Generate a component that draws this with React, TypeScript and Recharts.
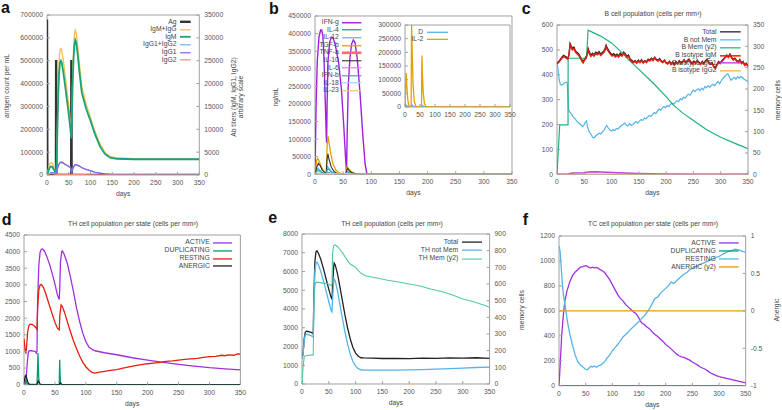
import React from 'react';
import { LineChart, Line, XAxis, YAxis, ReferenceArea } from 'recharts';

type Pt = [number, number];

const DAY_TICKS = [0, 50, 100, 150, 200, 250, 300, 350];

// ---------- panel a ----------
const agCount: Pt[] = [[0, 680000], [0.8, 0], [20.6, 0], [21, 503000], [21.6, 0], [55.6, 0], [56, 503000], [56.6, 0], [350, 0]];
const igmIgg: Pt[] = [[0, 0], [3, 1300], [6, 2400], [9, 2700], [12, 2600], [15, 1900], [18, 1100], [20, 700], [21, 400], [22, 2600], [24, 11500], [26, 20000], [28, 25000], [30, 27500], [32, 27700], [34, 27200], [37, 25400], [41, 22400], [45, 19200], [49, 16000], [52, 13300], [55, 10300], [56, 9800], [57, 13000], [59, 21500], [61, 27500], [63, 30800], [65, 31700], [67, 31200], [70, 28800], [74, 24800], [80, 19300], [90, 15500], [100, 12600], [110, 9600], [122, 6800], [133, 5000], [145, 4100], [160, 3750], [200, 3600], [260, 3550], [350, 3550]];
const igm: Pt[] = [[0, 0], [3, 800], [6, 1600], [9, 1850], [12, 1800], [15, 1300], [18, 800], [20, 500], [21, 300], [22, 2000], [24, 10000], [26, 18000], [28, 22500], [30, 24700], [32, 25000], [34, 24500], [37, 22800], [41, 20000], [45, 17000], [49, 14000], [52, 11500], [55, 8800], [56, 8000], [57, 12000], [59, 20000], [61, 25500], [63, 28500], [65, 29500], [67, 29000], [70, 26800], [74, 23000], [80, 18000], [90, 14500], [100, 11800], [110, 9000], [122, 6200], [133, 4600], [145, 3800], [160, 3550], [200, 3450], [260, 3450], [350, 3450]];
const igg1igg2: Pt[] = [[0, 0], [5, 250], [10, 550], [15, 450], [20, 250], [22, 700], [26, 2100], [30, 2800], [34, 2850], [40, 2500], [47, 2100], [54, 1700], [56, 700], [60, 1600], [64, 2250], [68, 2250], [75, 1950], [80, 1650], [90, 1250], [100, 950], [110, 650], [122, 420], [133, 270], [145, 160], [160, 90], [200, 20], [250, 0], [350, 0]];
const igg1: Pt[] = [[0, 0], [5, 200], [10, 500], [15, 400], [20, 200], [22, 600], [26, 2000], [30, 2700], [34, 2750], [40, 2400], [47, 2000], [54, 1600], [56, 600], [60, 1500], [64, 2200], [68, 2200], [75, 1900], [80, 1600], [90, 1200], [100, 900], [110, 600], [122, 400], [133, 250], [145, 150], [160, 80], [200, 20], [250, 0], [350, 0]];
const igg2: Pt[] = [[0, 0], [5, 250], [10, 350], [18, 200], [22, 150], [30, 200], [55, 150], [65, 120], [100, 50], [150, 0], [350, 0]];

// ---------- panel b ----------
const ifng: Pt[] = [[0, 0], [2, 200000], [4, 320000], [7, 390000], [10, 410000], [12, 410000], [14, 392000], [16, 330000], [18, 220000], [20, 110000], [20.6, 90000], [21.5, 200000], [23, 320000], [26, 375000], [29, 390000], [32, 388000], [36, 368000], [42, 318000], [47, 240000], [51, 140000], [54, 55000], [56, 5000], [57, 100000], [59, 250000], [62, 330000], [65, 370000], [68, 382000], [71, 375000], [75, 330000], [80, 230000], [85, 110000], [89, 30000], [92, 3000], [95, 0], [350, 0]];
const il4: Pt[] = [[0, 0], [4, 3000], [8, 2500], [15, 800], [21, 500], [23, 5000], [28, 3000], [35, 1000], [50, 200], [57, 2500], [62, 1200], [75, 0], [350, 0]];
const il12: Pt[] = [[0, 0], [3, 12000], [5, 17000], [8, 13000], [12, 6000], [16, 2500], [20, 1000], [21, 15000], [22, 22000], [25, 16000], [29, 8000], [34, 3000], [40, 1000], [55, 200], [56, 6000], [58, 8000], [62, 4000], [68, 1000], [80, 0], [350, 0]];
const tgfb: Pt[] = [[0, 0], [3, 40000], [5, 45500], [8, 35000], [12, 18000], [16, 8000], [20, 3000], [21.5, 80000], [23, 109000], [25, 90000], [28, 58000], [32, 29000], [37, 12000], [43, 4000], [50, 1000], [55, 500], [56, 15000], [57, 21600], [60, 15000], [64, 8000], [70, 2500], [80, 500], [90, 0], [350, 0]];
const tnfa: Pt[] = [[0, 0], [5, 1500], [20, 500], [22, 2500], [35, 500], [57, 1000], [70, 0], [350, 0]];
const il10: Pt[] = [[0, 0], [3, 20000], [6, 31000], [9, 25000], [13, 12000], [17, 5000], [20, 2000], [21.5, 45000], [23, 58000], [25, 42000], [29, 20000], [34, 8000], [40, 2000], [50, 500], [55, 200], [56, 10000], [58, 17000], [61, 10000], [66, 4000], [75, 500], [85, 0], [350, 0]];
const il6: Pt[] = [[0, 0], [5, 1000], [20, 300], [23, 1500], [40, 200], [57, 600], [70, 0], [350, 0]];
const ifnb: Pt[] = [[0, 0], [3, 9000], [6, 11000], [9, 8000], [13, 4000], [18, 1500], [20, 800], [21.5, 12000], [23, 16000], [26, 11000], [30, 5000], [36, 1500], [45, 300], [55, 100], [56, 5000], [58, 7000], [62, 3500], [68, 800], [80, 0], [350, 0]];
const il18: Pt[] = [[0, 0], [5, 2000], [15, 500], [23, 3000], [35, 600], [57, 1200], [70, 0], [350, 0]];
const il23: Pt[] = [[0, 0], [5, 1200], [15, 300], [23, 1800], [35, 400], [57, 800], [70, 0], [350, 0]];
const dCyt: Pt[] = [[0, 0], [2, 8000], [5, 6000], [10, 2000], [20, 500], [22, 9000], [26, 4000], [32, 1000], [55, 500], [57, 7000], [62, 2000], [70, 0], [350, 0]];
const il2: Pt[] = [[0, 0], [3, 100000], [4, 124000], [6, 80000], [9, 30000], [12, 8000], [16, 1000], [20.5, 0], [21.5, 250000], [22, 300000], [24, 200000], [27, 80000], [31, 20000], [36, 3000], [42, 0], [55, 0], [56, 150000], [56.5, 188000], [58, 120000], [61, 50000], [65, 12000], [70, 2000], [78, 0], [350, 0]];

// ---------- panel c ----------
const bTotal: Pt[] = [[0, 446], [3, 452], [6, 462], [9, 471], [12, 478], [15, 474], [18, 470], [20, 467], [22, 482], [24, 526], [26, 516], [28, 506], [31, 511], [34, 495], [37, 490], [40, 483], [43, 471], [46, 459], [48, 452], [50, 462], [53, 471], [55, 483], [57, 506], [59, 493], [62, 479], [65, 487], [68, 481], [71, 491], [74, 486], [77, 493], [80, 484], [83, 490], [86, 496], [88, 506], [90, 519], [92, 508], [95, 497], [98, 488], [101, 480], [104, 485], [107, 478], [110, 483], [113, 476], [116, 487], [119, 480], [122, 491], [125, 485], [128, 474], [131, 479], [134, 463], [137, 458], [140, 452], [143, 457], [146, 450], [149, 459], [152, 452], [155, 461], [158, 450], [161, 457], [164, 452], [167, 463], [170, 458], [173, 467], [176, 460], [179, 471], [182, 462], [185, 458], [188, 465], [191, 456], [194, 452], [197, 459], [200, 450], [203, 446], [206, 455], [209, 444], [212, 451], [215, 442], [218, 453], [221, 446], [224, 457], [227, 448], [230, 453], [233, 461], [236, 450], [239, 457], [242, 463], [245, 452], [248, 446], [251, 455], [254, 448], [257, 459], [260, 450], [263, 444], [266, 453], [269, 446], [272, 457], [275, 463], [278, 452], [281, 444], [284, 449], [287, 436], [290, 428], [293, 441], [296, 453], [299, 448], [302, 457], [305, 463], [308, 471], [311, 479], [314, 472], [317, 483], [320, 470], [323, 462], [326, 467], [329, 458], [332, 452], [335, 461], [338, 448], [341, 453], [344, 440], [347, 446], [350, 436]];
const bNotMem: Pt[] = [[0, 446], [2, 420], [4, 380], [6, 362], [8, 358], [11, 362], [14, 368], [17, 370], [19, 366], [20, 320], [21, 262], [23, 252], [26, 244], [29, 232], [32, 226], [35, 218], [38, 210], [41, 204], [44, 198], [47, 192], [50, 200], [52, 210], [54, 215], [56, 190], [59, 170], [62, 162], [65, 150], [68, 146], [71, 155], [74, 160], [77, 165], [80, 162], [83, 170], [86, 176], [89, 190], [91, 196], [94, 186], [97, 178], [100, 174], [103, 180], [106, 176], [109, 184], [112, 182], [115, 190], [118, 196], [121, 200], [124, 206], [127, 198], [130, 194], [133, 204], [136, 196], [139, 200], [142, 206], [145, 212], [148, 206], [151, 214], [154, 220], [157, 216], [160, 226], [163, 222], [166, 230], [169, 236], [172, 232], [175, 240], [178, 248], [181, 244], [184, 254], [187, 262], [190, 258], [193, 266], [196, 272], [199, 268], [202, 276], [205, 272], [208, 282], [211, 286], [214, 282], [217, 290], [220, 296], [223, 292], [226, 304], [229, 300], [232, 310], [235, 306], [238, 316], [241, 322], [244, 318], [247, 330], [250, 338], [253, 332], [256, 340], [259, 344], [262, 336], [265, 346], [268, 340], [271, 352], [274, 348], [277, 356], [280, 350], [283, 358], [286, 362], [289, 356], [292, 366], [295, 372], [298, 364], [301, 376], [304, 384], [307, 392], [310, 400], [313, 404], [316, 390], [319, 378], [322, 384], [325, 390], [328, 382], [331, 392], [334, 386], [337, 394], [340, 388], [343, 382], [346, 378], [350, 372]];
const bMem: Pt[] = [[0, 0], [5, 116], [20.2, 116], [20.4, 272], [54, 272], [57, 338], [80, 324], [100, 308], [115, 290], [130, 270], [150, 246], [176, 214], [200, 182], [212, 164], [230, 144], [250, 126], [275, 104], [300, 87], [325, 73], [350, 60]];
const bIgm: Pt[] = [[0, 444], [3, 449], [6, 458], [9, 467], [12, 473], [15, 470], [18, 465], [20, 463], [22, 478], [24, 520], [26, 511], [28, 500], [31, 505], [34, 490], [37, 484], [40, 478], [43, 466], [46, 453], [48, 448], [50, 457], [53, 466], [55, 477], [57, 499], [59, 487], [62, 474], [65, 481], [68, 475], [71, 485], [74, 480], [77, 487], [80, 478], [83, 484], [86, 490], [88, 499], [90, 512], [92, 502], [95, 491], [98, 482], [101, 475], [104, 479], [107, 472], [110, 478], [113, 471], [116, 481], [119, 475], [122, 485], [125, 480], [128, 470], [131, 474], [134, 459], [137, 454], [140, 448], [143, 454], [146, 446], [149, 455], [152, 449], [155, 457], [158, 447], [161, 454], [164, 449], [167, 459], [170, 455], [173, 463], [176, 457], [179, 467], [182, 459], [185, 455], [188, 461], [191, 453], [194, 449], [197, 456], [200, 447], [203, 443], [206, 452], [209, 441], [212, 448], [215, 439], [218, 450], [221, 443], [224, 454], [227, 445], [230, 450], [233, 458], [236, 447], [239, 454], [242, 460], [245, 449], [248, 443], [251, 452], [254, 445], [257, 456], [260, 447], [263, 441], [266, 450], [269, 443], [272, 454], [275, 460], [278, 449], [281, 441], [284, 446], [287, 433], [290, 425], [293, 438], [296, 450], [299, 445], [302, 454], [305, 460], [308, 468], [311, 476], [314, 469], [317, 480], [320, 467], [323, 459], [326, 464], [329, 455], [332, 449], [335, 458], [338, 445], [341, 450], [344, 437], [347, 443], [350, 433]];
const bIgg1: Pt[] = [[0, 0], [20, 0], [23, 3], [30, 5], [50, 6], [57, 9], [70, 10], [90, 8], [110, 6], [150, 3], [200, 1], [250, 0], [350, 0]];
const bIgg2: Pt[] = [[0, 0], [350, 0]];

// ---------- panel d ----------
const thActive: Pt[] = [[0, 0], [3, 50], [5, 600], [7, 980], [9, 1020], [12, 1020], [15, 1010], [18, 1000], [20, 950], [21, 1000], [22, 2500], [24, 3600], [26, 3980], [28, 4070], [30, 4080], [33, 4020], [37, 3850], [42, 3580], [47, 3250], [51, 2950], [54, 2700], [57, 2560], [58, 3000], [59, 3700], [61, 4000], [62, 4020], [65, 3920], [70, 3650], [75, 3250], [80, 2800], [85, 2300], [90, 1900], [95, 1550], [100, 1300], [105, 1130], [110, 1060], [115, 1020], [130, 960], [150, 900], [175, 810], [200, 740], [225, 670], [250, 610], [275, 560], [300, 510], [325, 475], [350, 445]];
const thDup: Pt[] = [[0, 0], [2, 80], [3, 120], [4, 60], [6, 20], [10, 10], [21, 20], [22, 500], [22.6, 950], [23.2, 600], [24, 150], [25, 30], [27, 0], [57, 0], [57.5, 500], [57.8, 750], [58.3, 350], [59, 80], [60, 0], [350, 0]];
const thResting: Pt[] = [[0, 1380], [1, 1200], [2, 1000], [3, 960], [4, 1100], [6, 1600], [8, 1780], [10, 1820], [13, 1810], [16, 1780], [19, 1720], [21, 1660], [22, 2300], [24, 2850], [26, 3000], [28, 3010], [31, 2940], [35, 2750], [40, 2450], [45, 2160], [50, 1880], [54, 1700], [57, 1650], [58, 2100], [60, 2400], [62, 2350], [66, 2150], [70, 1900], [75, 1600], [80, 1320], [85, 1080], [90, 860], [95, 680], [100, 540], [105, 440], [110, 370], [114, 350], [120, 370], [130, 400], [140, 430], [150, 455], [160, 500], [170, 535], [180, 570], [190, 600], [200, 630], [210, 650], [220, 670], [230, 700], [240, 715], [250, 740], [260, 760], [270, 775], [280, 790], [290, 820], [300, 845], [310, 850], [320, 885], [325, 870], [330, 895], [340, 885], [345, 925], [350, 915]];
const thAnergic: Pt[] = [[0, 0], [1, 150], [2, 260], [3, 280], [4, 220], [6, 80], [8, 20], [10, 0], [21, 0], [22, 60], [23, 110], [24, 80], [26, 20], [28, 0], [57, 0], [58, 40], [59, 50], [61, 10], [63, 0], [350, 0]];

// ---------- panel e ----------
const thTotal: Pt[] = [[0, 1350], [2, 1600], [4, 2400], [6, 2750], [8, 2820], [11, 2800], [14, 2780], [17, 2760], [20, 2700], [21, 2680], [22, 4500], [24, 6500], [26, 7050], [28, 7100], [31, 6950], [35, 6650], [40, 6150], [45, 5600], [50, 5050], [54, 4650], [56, 4500], [57, 5200], [59, 6200], [60, 6450], [62, 6350], [66, 5900], [70, 5300], [75, 4500], [80, 3700], [85, 3000], [90, 2400], [95, 1950], [100, 1650], [105, 1480], [110, 1400], [115, 1390], [130, 1375], [150, 1360], [175, 1370], [200, 1355], [225, 1380], [250, 1370], [275, 1390], [300, 1380], [325, 1400], [350, 1370]];
const thNotMem: Pt[] = [[0, 1350], [2, 1550], [4, 2300], [6, 2620], [8, 2660], [11, 2640], [14, 2610], [17, 2580], [20, 2520], [21, 2500], [22, 4200], [24, 6000], [26, 6450], [28, 6500], [31, 6330], [35, 6000], [40, 5500], [45, 4950], [50, 4400], [54, 3950], [56, 3850], [57, 4500], [59, 5400], [60, 5600], [62, 5500], [66, 5000], [70, 4350], [75, 3550], [80, 2800], [85, 2150], [90, 1600], [95, 1200], [100, 950], [105, 820], [110, 760], [115, 740], [130, 745], [150, 740], [175, 740], [200, 750], [225, 770], [250, 790], [275, 820], [300, 850], [325, 880], [350, 900]];
const thMem: Pt[] = [[0, 0], [2, 100], [4, 160], [6, 170], [20, 175], [21, 175], [22, 450], [24, 590], [26, 610], [30, 610], [40, 605], [50, 600], [55, 590], [56, 600], [57, 780], [59, 830], [62, 835], [66, 825], [70, 810], [75, 790], [80, 765], [85, 740], [90, 720], [95, 710], [100, 700], [105, 680], [110, 665], [115, 655], [120, 648], [140, 636], [160, 622], [180, 612], [200, 600], [220, 588], [240, 570], [260, 555], [280, 535], [300, 510], [320, 493], [340, 472], [350, 460]];

// ---------- panel f ----------
const tcActive: Pt[] = [[0, 0], [2, 150], [5, 400], [8, 560], [11, 680], [15, 760], [20, 830], [25, 880], [30, 910], [35, 930], [40, 950], [45, 955], [50, 962], [53, 958], [56, 948], [60, 944], [63, 950], [66, 945], [70, 948], [74, 940], [78, 928], [82, 920], [86, 905], [90, 880], [95, 850], [100, 810], [105, 770], [110, 730], [115, 700], [120, 680], [125, 650], [130, 630], [135, 610], [140, 590], [145, 575], [150, 540], [155, 505], [160, 490], [165, 470], [170, 455], [175, 430], [180, 410], [185, 395], [190, 375], [195, 355], [200, 330], [205, 315], [210, 295], [215, 275], [220, 255], [225, 240], [230, 230], [235, 225], [240, 215], [245, 205], [250, 190], [255, 178], [260, 165], [265, 150], [270, 140], [275, 130], [280, 115], [285, 100], [290, 90], [295, 80], [300, 72], [310, 62], [320, 52], [330, 42], [340, 32], [350, 22]];
const tcDup: Pt[] = [[0, 0], [350, 0]];
const tcResting: Pt[] = [[0, 1120], [2, 1080], [4, 960], [6, 830], [8, 740], [10, 680], [13, 600], [16, 510], [20, 420], [25, 330], [30, 250], [35, 195], [40, 165], [45, 150], [50, 130], [53, 128], [56, 140], [60, 155], [63, 150], [66, 158], [70, 148], [74, 160], [78, 165], [82, 180], [86, 195], [90, 220], [95, 245], [100, 280], [105, 305], [110, 330], [115, 360], [120, 390], [125, 410], [130, 430], [135, 455], [140, 475], [145, 495], [150, 515], [155, 540], [160, 560], [165, 590], [170, 620], [175, 660], [180, 700], [185, 710], [190, 740], [195, 760], [200, 780], [205, 800], [210, 830], [215, 820], [220, 840], [225, 860], [230, 880], [235, 895], [240, 910], [245, 930], [250, 940], [255, 955], [260, 960], [265, 975], [270, 980], [275, 990], [280, 1000], [285, 1010], [290, 1020], [295, 1030], [300, 1035], [305, 1050], [310, 1060], [315, 1070], [320, 1080], [325, 1085], [330, 1095], [335, 1090], [340, 1085], [345, 1075], [350, 1070]];
const tcAnergic: Pt[] = [[0, 0], [350, 0]];

// ---------- rendering ----------
const FONT = '"Liberation Sans", Arial, sans-serif';
const FS = 6.8;
const TXT = '#555';
const FRAME = '#a0a0a0';

type S = { name: string; pts: Pt[]; color: string; w: number; axis?: 'l' | 'r'; lw?: number };
type Axis = { domain: [number, number]; ticks: number[] };
type Cfg = {
  l: number; t: number; r: number; b: number;
  left: Axis; right?: Axis; series: S[]; days: boolean;
  legend: { end: number; y0: number; rowH: number; len: number };
};

const rows = (p: Pt[]) => p.map(([x, v]) => ({ x, v }));
const steps = (a: number, b: number, s: number) => { const o: number[] = []; for (let v = a; v <= b + 1e-9; v += s) o.push(Math.round(v * 100) / 100); return o; };

const tickStyle = { fontSize: FS, fill: TXT, fontFamily: FONT };

function Panel({ c }: { c: Cfg }) {
  const LW = 45, RW = 45, TOP = 5, BOT = 25;
  const cl = c.l - LW, ct = c.t - TOP;
  const w = c.r - c.l + LW + RW, h = c.b - c.t + TOP + BOT;
  return (
    <div style={{ position: 'absolute', left: cl, top: ct, width: w, height: h }}>
      <LineChart width={w} height={h} margin={{ top: TOP, right: c.right ? 0 : RW, bottom: 0, left: 0 }}>
        <XAxis dataKey="x" type="number" domain={[0, 350]} ticks={DAY_TICKS} interval={0} height={BOT}
          tick={tickStyle} tickSize={-3} tickMargin={8} tickLine={{ stroke: FRAME }} axisLine={false}
          allowDataOverflow
          label={c.days ? { value: 'days', position: 'insideBottom', offset: 4, style: { fontSize: FS, fill: '#444', fontFamily: FONT } } : undefined} />
        <YAxis yAxisId="l" type="number" width={LW} domain={c.left.domain} ticks={c.left.ticks} interval={0}
          tick={tickStyle} tickSize={-3} tickMargin={7} tickLine={{ stroke: FRAME }} axisLine={false} allowDataOverflow />
        {c.right && (
          <YAxis yAxisId="r" orientation="right" type="number" width={RW} domain={c.right.domain} ticks={c.right.ticks} interval={0}
            tick={tickStyle} tickSize={-3} tickMargin={8} tickLine={{ stroke: FRAME }} axisLine={false} allowDataOverflow />
        )}
        <ReferenceArea yAxisId="l" x1={0} x2={350} y1={c.left.domain[0]} y2={c.left.domain[1]} fill="none" stroke={FRAME} strokeWidth={1} />
        {c.series.map((s) => (
          <Line key={s.name} yAxisId={s.axis === 'r' ? 'r' : 'l'} data={rows(s.pts)} dataKey="v" name={s.name}
            stroke={s.color} strokeWidth={s.w} dot={false} activeDot={false} type="linear" isAnimationActive={false} />
        ))}
      </LineChart>
    </div>
  );
}

function LegendBox({ c }: { c: Cfg }) {
  const { end, y0, rowH, len } = c.legend;
  const width = 120;
  return (
    <div style={{ position: 'absolute', left: end - width, top: y0 - rowH / 2, width }}>
      {c.series.map((s) => (
        <div key={s.name} style={{ display: 'flex', alignItems: 'center', justifyContent: 'flex-end', height: rowH }}>
          <span style={{ fontSize: FS, color: '#444', fontFamily: FONT, whiteSpace: 'nowrap', marginRight: 3.5, lineHeight: 1 }}>{s.name}</span>
          <svg width={len} height={rowH} style={{ display: 'block' }}>
            <line x1={0} x2={len} y1={rowH / 2} y2={rowH / 2} stroke={s.color} strokeWidth={s.lw ?? s.w} />
          </svg>
        </div>
      ))}
    </div>
  );
}

const PURPLE = '#9400d3';
const GREEN = '#009e73';
const LBLUE = '#56b4e9';
const ORANGE = '#e69f00';
const RED = '#e51e10';

const panels: Cfg[] = [
  {
    l: 46.7, t: 15, r: 199, b: 175, days: true,
    left: { domain: [0, 700000], ticks: steps(0, 700000, 100000) },
    right: { domain: [0, 35000], ticks: steps(0, 35000, 5000) },
    legend: { end: 190.7, y0: 22, rowH: 7.6, len: 10.7 },
    series: [
      { name: 'Ag', pts: agCount, color: '#333333', w: 2.4 },
      { name: 'IgM+IgG', pts: igmIgg, color: '#f0c050', w: 1.3, axis: 'r' },
      { name: 'IgM', pts: igm, color: '#1aa37a', w: 1.8, axis: 'r' },
      { name: 'IgG1+IgG2', pts: igg1igg2, color: '#6ab4f0', w: 1.2, axis: 'r' },
      { name: 'IgG1', pts: igg1, color: '#8a5ce6', w: 1.2, axis: 'r' },
      { name: 'IgG2', pts: igg2, color: '#e8907a', w: 1.2, axis: 'r' },
    ],
  },
  {
    l: 315.3, t: 16, r: 512.3, b: 174.3, days: true,
    left: { domain: [0, 450000], ticks: steps(0, 450000, 50000) },
    legend: { end: 361.7, y0: 22.7, rowH: 7.55, len: 19.4 },
    series: [
      { name: 'IFN-g', pts: ifng, color: '#a020e0', w: 1.4 },
      { name: 'IL-4', pts: il4, color: GREEN, w: 1.2 },
      { name: 'IL-12', pts: il12, color: LBLUE, w: 1.2 },
      { name: 'TGF-b', pts: tgfb, color: ORANGE, w: 1.3 },
      { name: 'TNF-a', pts: tnfa, color: '#f07070', w: 1.2, lw: 2.6 },
      { name: 'IL-10', pts: il10, color: '#333333', w: 1.1 },
      { name: 'IL-6', pts: il6, color: '#d884f0', w: 1.2 },
      { name: 'IFN-b', pts: ifnb, color: '#40a8a0', w: 1.2 },
      { name: 'IL-18', pts: il18, color: '#9ad4f0', w: 1.2 },
      { name: 'IL-23', pts: il23, color: '#f0c878', w: 1.2 },
    ],
  },
  {
    l: 405, t: 25.3, r: 510, b: 107.3, days: false,
    left: { domain: [0, 300000], ticks: steps(0, 300000, 50000) },
    legend: { end: 447.7, y0: 32.7, rowH: 6.6, len: 21 },
    series: [
      { name: 'D', pts: dCyt, color: LBLUE, w: 1.3 },
      { name: 'IL-2', pts: il2, color: ORANGE, w: 1.3 },
    ],
  },
  {
    l: 557.3, t: 25, r: 748.3, b: 174.3, days: true,
    left: { domain: [0, 600], ticks: steps(0, 600, 100) },
    right: { domain: [0, 350], ticks: steps(0, 350, 50) },
    legend: { end: 740.7, y0: 32.3, rowH: 7.7, len: 20.7 },
    series: [
      { name: 'Total', pts: bTotal, color: '#222222', w: 1.3 },
      { name: 'B not Mem', pts: bNotMem, color: LBLUE, w: 1.2 },
      { name: 'B Mem (y2)', pts: bMem, color: '#20b080', w: 1.2, axis: 'r' },
      { name: 'B isotype IgM', pts: bIgm, color: RED, w: 1.5 },
      { name: 'B isotype IgG1', pts: bIgg1, color: '#c040e0', w: 1.4 },
      { name: 'B isotype IgG2', pts: bIgg2, color: '#f0b030', w: 1.2 },
    ],
  },
  {
    l: 24.3, t: 235.3, r: 240.7, b: 385, days: true,
    left: { domain: [0, 4500], ticks: steps(0, 4500, 500) },
    legend: { end: 232.3, y0: 242.7, rowH: 7.9, len: 19 },
    series: [
      { name: 'ACTIVE', pts: thActive, color: '#a030e0', w: 1.3 },
      { name: 'DUPLICATING', pts: thDup, color: GREEN, w: 1.3 },
      { name: 'RESTING', pts: thResting, color: RED, w: 1.3 },
      { name: 'ANERGIC', pts: thAnergic, color: '#222222', w: 1.3 },
    ],
  },
  {
    l: 301.7, t: 234.3, r: 489.3, b: 384.3, days: true,
    left: { domain: [0, 8000], ticks: steps(0, 8000, 1000) },
    right: { domain: [0, 900], ticks: steps(0, 900, 100) },
    legend: { end: 481.7, y0: 242.3, rowH: 8.2, len: 20 },
    series: [
      { name: 'Total', pts: thTotal, color: '#222222', w: 1.3 },
      { name: 'TH not Mem', pts: thNotMem, color: LBLUE, w: 1.3 },
      { name: 'TH Mem (y2)', pts: thMem, color: '#50c8a8', w: 1.1, axis: 'r' },
    ],
  },
  {
    l: 559.3, t: 236, r: 746, b: 385.7, days: true,
    left: { domain: [0, 1200], ticks: steps(0, 1200, 200) },
    right: { domain: [-1, 1], ticks: [-1, -0.5, 0, 0.5, 1] },
    legend: { end: 739, y0: 243.3, rowH: 7.9, len: 19.7 },
    series: [
      { name: 'ACTIVE', pts: tcActive, color: '#a030e0', w: 1.3 },
      { name: 'DUPLICATING', pts: tcDup, color: GREEN, w: 1.3 },
      { name: 'RESTING', pts: tcResting, color: LBLUE, w: 1.3 },
      { name: 'ANERGIC (y2)', pts: tcAnergic, color: ORANGE, w: 1.3, axis: 'r' },
    ],
  },
];

const letters: { t: string; x: number; y: number }[] = [
  { t: 'a', x: 1, y: -0.5 }, { t: 'b', x: 269, y: 0.5 }, { t: 'c', x: 521.7, y: 0.5 },
  { t: 'd', x: 1.7, y: 211.5 }, { t: 'e', x: 268.3, y: 210 }, { t: 'f', x: 522.7, y: 211.5 },
];

const titles: { t: string; x: number; y: number }[] = [
  { t: 'B cell population (cells per mm³)', x: 653, y: 14 },
  { t: 'TH cell population per state (cells per mm³)', x: 133, y: 224.3 },
  { t: 'TH cell population (cells per mm³)', x: 392, y: 224.3 },
  { t: 'TC cell population per state (cells per mm³)', x: 653, y: 224.3 },
];

const vLabels: { t: string[]; x: number; y: number }[] = [
  { t: ['antigen count per mL'], x: 7.3, y: 86 },
  { t: ['Ab titers (IgM, IgG1, IgG2)', 'arbitrary scale'], x: 238.3, y: 96.7 },
  { t: ['ng/mL'], x: 275.7, y: 96.7 },
  { t: ['memory cells'], x: 778.3, y: 100 },
  { t: ['memory cells'], x: 521.7, y: 310 },
  { t: ['Anergic'], x: 776.7, y: 310 },
];

export default function App() {
  return (
    <div style={{ position: 'absolute', left: 0, top: 0, width: 782, height: 410, background: '#ffffff', overflow: 'hidden', fontFamily: FONT }}>
      {panels.map((c, i) => <Panel key={i} c={c} />)}
      {panels.map((c, i) => <LegendBox key={'lg' + i} c={c} />)}
      {letters.map((l) => (
        <div key={l.t} style={{ position: 'absolute', left: l.x, top: l.y, fontSize: 16, lineHeight: 1, fontWeight: 'bold', color: '#111', fontFamily: FONT }}>{l.t}</div>
      ))}
      {titles.map((t) => (
        <div key={t.t} style={{ position: 'absolute', left: t.x, top: t.y, transform: 'translate(-50%, -50%)', whiteSpace: 'nowrap', fontSize: FS, lineHeight: 1, color: '#444', fontFamily: FONT }}>{t.t}</div>
      ))}
      {vLabels.map((v, i) => (
        <div key={'v' + i} style={{ position: 'absolute', left: v.x, top: v.y, transform: 'translate(-50%, -50%) rotate(-90deg)', whiteSpace: 'nowrap', textAlign: 'center', fontSize: FS, lineHeight: '6.8px', color: '#444', fontFamily: FONT }}>
          {v.t.map((s) => <div key={s}>{s}</div>)}
        </div>
      ))}
    </div>
  );
}
